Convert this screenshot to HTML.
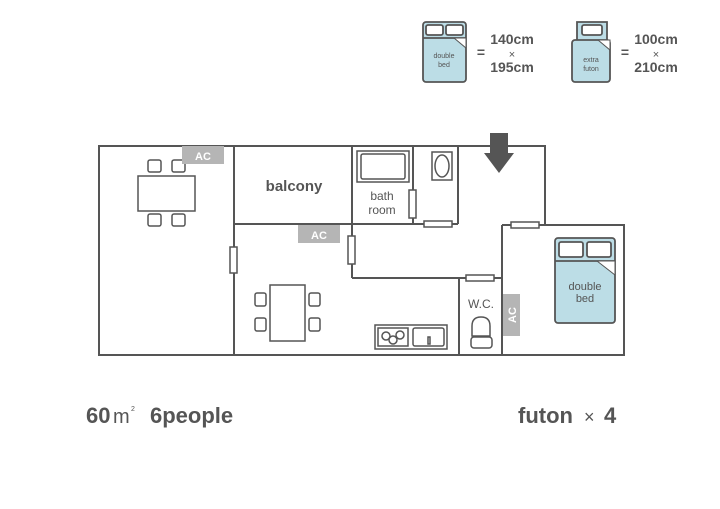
<!DOCTYPE html>
<html><head><style>
html,body{margin:0;padding:0;background:#fff;}
svg{display:block;}
text{font-family:"Liberation Sans","DejaVu Sans",sans-serif;fill:#555;}
</style></head><body>
<svg width="720" height="509" viewBox="0 0 720 509" xmlns="http://www.w3.org/2000/svg">
<g fill="none" stroke="#555" stroke-width="2">
<!-- outer -->
<path d="M99 146 H545 V225 H624 V355 H99 Z"/>
<line x1="234" y1="146" x2="234" y2="355"/>
<line x1="234" y1="224" x2="458" y2="224"/>
<line x1="352" y1="146" x2="352" y2="278"/>
<line x1="413" y1="146" x2="413" y2="224"/>
<line x1="458" y1="146" x2="458" y2="224"/>
<line x1="352" y1="278" x2="502" y2="278"/>
<line x1="502" y1="225" x2="502" y2="355"/>
<line x1="502" y1="225" x2="545" y2="225"/>
<line x1="459" y1="278" x2="459" y2="355"/>
</g>
<g fill="#fff" stroke="#555" stroke-width="1.5">
<!-- doors -->
<rect x="230" y="247" width="7" height="26"/>
<rect x="348" y="236" width="7" height="28"/>
<rect x="409" y="190" width="7" height="28"/>
<rect x="424" y="221" width="28" height="6"/>
<rect x="466" y="275" width="28" height="6"/>
<rect x="511" y="222" width="28" height="6"/>
<!-- left table -->
<rect x="138" y="176" width="57" height="35"/>
<rect x="148" y="160" width="13" height="12" rx="2"/>
<rect x="172" y="160" width="13" height="12" rx="2"/>
<rect x="148" y="214" width="13" height="12" rx="2"/>
<rect x="172" y="214" width="13" height="12" rx="2"/>
<!-- middle table -->
<rect x="270" y="285" width="35" height="56"/>
<rect x="255" y="293" width="11" height="13" rx="2"/>
<rect x="255" y="318" width="11" height="13" rx="2"/>
<rect x="309" y="293" width="11" height="13" rx="2"/>
<rect x="309" y="318" width="11" height="13" rx="2"/>
<!-- bathtub -->
<rect x="357" y="151" width="52" height="31"/>
<rect x="361" y="154" width="44" height="25" rx="2"/>
<!-- sink -->
<rect x="432" y="152" width="20" height="28"/>
<ellipse cx="442" cy="166" rx="7" ry="11"/>
<!-- kitchen -->
<rect x="375" y="325" width="72" height="24"/>
<rect x="378" y="328" width="30" height="18"/>
<circle cx="386" cy="336" r="4"/><circle cx="393" cy="340" r="4"/><circle cx="400" cy="335" r="4"/>
<rect x="413" y="328" width="31" height="18" rx="2"/>
<rect x="428" y="337" width="2" height="7"/>
<!-- toilet -->
<path d="M472 336 V326 Q472 317 481 317 Q490 317 490 326 V336 Z"/>
<rect x="471" y="337" width="21" height="11" rx="3"/>
</g>
<!-- AC -->
<rect x="182" y="146" width="42" height="18" fill="#b5b5b5"/>
<text x="203" y="160" font-size="11" font-weight="bold" text-anchor="middle" style="fill:#fff">AC</text>
<rect x="298" y="225" width="42" height="18" fill="#b5b5b5"/>
<text x="319" y="239" font-size="11" font-weight="bold" text-anchor="middle" style="fill:#fff">AC</text>
<rect x="503" y="294" width="17" height="42" fill="#b5b5b5"/>
<text transform="translate(516 315) rotate(-90)" font-size="11" font-weight="bold" text-anchor="middle" style="fill:#fff">AC</text>
<!-- arrow -->
<path d="M490 133 H508 V153 H514 L499 173 L484 153 H490 Z" fill="#555"/>
<!-- bed -->
<g stroke="#555" stroke-width="1.8">
<rect x="555" y="238" width="60" height="85" rx="3" fill="#bcdde6"/>
<rect x="559" y="242" width="24" height="15" rx="2" fill="#fff"/>
<rect x="587" y="242" width="24" height="15" rx="2" fill="#fff"/>
<line x1="555" y1="261" x2="615" y2="261"/>
<path d="M597 261 L615 275 V261 Z" fill="#fff" stroke-width="1"/>
</g>
<text x="585" y="290" font-size="11" text-anchor="middle">double</text>
<text x="585" y="302" font-size="11" text-anchor="middle">bed</text>
<!-- legend double -->
<g stroke="#555" stroke-width="1.8">
<rect x="423" y="22" width="43" height="60" rx="3" fill="#bcdde6"/>
<rect x="426" y="25" width="17" height="10" rx="2" fill="#fff"/>
<rect x="446" y="25" width="17" height="10" rx="2" fill="#fff"/>
<line x1="423" y1="38" x2="466" y2="38"/>
<path d="M454 38 L466 48 V38 Z" fill="#fff" stroke-width="1"/>
<path d="M577 40 V22 H607 V40" fill="#bcdde6"/>
<rect x="582" y="25" width="20" height="10" rx="2" fill="#fff"/>
<rect x="572" y="40" width="38" height="42" rx="3" fill="#bcdde6"/>
<path d="M598 40 L610 50 V40 Z" fill="#fff" stroke-width="1"/>
</g>
<text x="444" y="58" font-size="7" text-anchor="middle">double</text>
<text x="444" y="67" font-size="7" text-anchor="middle">bed</text>
<text x="591" y="62" font-size="7" text-anchor="middle">extra</text>
<text x="591" y="71" font-size="7" text-anchor="middle">futon</text>
<text x="481" y="57" font-size="14" font-weight="bold" text-anchor="middle">=</text>
<text x="512" y="44" font-size="14" font-weight="bold" text-anchor="middle">140cm</text>
<text x="512" y="58" font-size="11" text-anchor="middle">×</text>
<text x="512" y="72" font-size="14" font-weight="bold" text-anchor="middle">195cm</text>
<text x="625" y="57" font-size="14" font-weight="bold" text-anchor="middle">=</text>
<text x="656" y="44" font-size="14" font-weight="bold" text-anchor="middle">100cm</text>
<text x="656" y="58" font-size="11" text-anchor="middle">×</text>
<text x="656" y="72" font-size="14" font-weight="bold" text-anchor="middle">210cm</text>
<!-- room labels -->
<text x="294" y="191" font-size="15" font-weight="bold" text-anchor="middle">balcony</text>
<text x="382" y="200" font-size="12" text-anchor="middle">bath</text>
<text x="382" y="214" font-size="12" text-anchor="middle">room</text>
<text x="481" y="308" font-size="12" text-anchor="middle">W.C.</text>
<!-- bottom -->
<text x="86" y="423" font-size="22" font-weight="bold">60</text>
<text x="113" y="423" font-size="20">m</text>
<text x="131" y="411" font-size="7">2</text>
<text x="150" y="423" font-size="22" font-weight="bold">6people</text>
<text x="518" y="423" font-size="22" font-weight="bold">futon</text>
<text x="584" y="423" font-size="18">×</text>
<text x="604" y="423" font-size="22" font-weight="bold">4</text>
</svg>
</body></html>
